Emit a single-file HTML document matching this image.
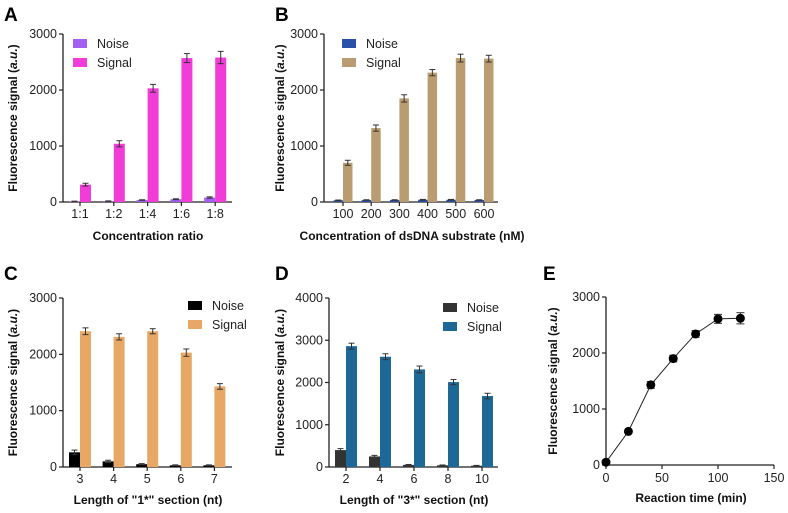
<!DOCTYPE html>
<html><head><meta charset="utf-8"><style>
body{margin:0;background:#fff}
svg{display:block;font-family:"Liberation Sans",Arial,sans-serif}
.tk{font-size:12.5px;fill:#222}
.tt{font-size:12px;font-weight:bold;fill:#111}
.pl{font-size:19px;font-weight:bold;fill:#000}
.lg{font-size:12.5px;fill:#222}
</style></head><body>
<svg id="fig" width="788" height="513" viewBox="0 0 788 513"></svg>
<script>
// Panel A
const catsA = ["1:1","1:2","1:4","1:6","1:8"];
const noiseA = [10,15,35,50,80];
const signalA = [310,1040,2030,2570,2580];
const errSA = [25,55,70,80,110];
const ticksA = [0,1000,2000,3000];
// Panel B
const catsB = ["100","200","300","400","500","600"];
const noiseB = [30,35,35,40,40,35];
const signalB = [700,1320,1850,2310,2570,2560];
const errSB = [45,55,65,55,70,60];
const ticksB = [0,1000,2000,3000];
// Panel C
const catsC = ["3","4","5","6","7"];
const noiseC = [260,100,50,30,30];
const signalC = [2410,2310,2410,2030,1430];
const errSC = [60,55,45,65,50];
const errNC = [40,20,10,8,8];
const ticksC = [0,1000,2000,3000];
// Panel D
const catsD = ["2","4","6","8","10"];
const noiseD = [400,250,50,40,30];
const signalD = [2860,2610,2310,2010,1680];
const errSD = [70,70,80,60,65];
const errND = [35,25,10,8,8];
const ticksD = [0,1000,2000,3000,4000];
// Panel E
const timeE = [0,20,40,60,80,100,120];
const valE = [50,600,1430,1900,2340,2610,2620];
const errE = [30,30,60,60,60,80,100];
const xticksE = [0,50,100,150];
const yticksE = [0,1000,2000,3000];

const NS="http://www.w3.org/2000/svg";
const svg=document.getElementById('fig');
function mk(tag,attrs,parent,text){const e=document.createElementNS(NS,tag);for(const k in attrs)e.setAttribute(k,attrs[k]);if(text!==undefined)e.textContent=text;(parent||svg).appendChild(e);return e;}

function axesY(g,x0,yScale,ticks){
  mk('line',{x1:x0,y1:yScale(ticks[ticks.length-1]),x2:x0,y2:yScale(0),stroke:'#222','stroke-width':1.3},g);
  ticks.forEach(t=>{
    const y=yScale(t);
    mk('line',{x1:x0-4,y1:y,x2:x0,y2:y,stroke:'#222','stroke-width':1.2},g);
    const tx=mk('text',{x:x0-6,y:y+4,'text-anchor':'end',class:'tk'},g,String(t));
    
    
  });
}
function ytitle(g,x,cy){
  const t=mk('text',{x:0,y:0,transform:`translate(${x},${cy}) rotate(-90)`,'text-anchor':'middle',class:'tt'},g);
  
  
  mk('tspan',{},t,'Fluorescence signal  (');
  mk('tspan',{'font-style':'italic'},t,'a.u.');
  mk('tspan',{},t,')');
}
function errbar(g,x,y1,y2,w){
  mk('line',{x1:x,y1:y1,x2:x,y2:y2,stroke:'#333','stroke-width':1},g);
  mk('line',{x1:x-w,y1:y1,x2:x+w,y2:y1,stroke:'#333','stroke-width':1},g);
  mk('line',{x1:x-w,y1:y2,x2:x+w,y2:y2,stroke:'#333','stroke-width':1},g);
}
function barPanel(o){
  const g=mk('g',{});
  
  
  const ys=v=>o.yBot-(v/o.yMax)*(o.yBot-o.yTop);
  const xc=i=>o.c0+i*o.step;
  axesY(g,o.x0,ys,o.ticks);
  mk('line',{x1:o.x0,y1:o.yBot,x2:o.xEnd,y2:o.yBot,stroke:'#222','stroke-width':1.3},g);
  o.cats.forEach((c,i)=>{
    const x=xc(i);
    mk('line',{x1:x,y1:o.yBot,x2:x,y2:o.yBot+4,stroke:'#222','stroke-width':1.2},g);
    const t=mk('text',{x:x,y:o.yBot+16,'text-anchor':'middle',class:'tk'},g,c);
    
    
    const n=o.noise[i], s=o.signal[i];
    const nb=mk('rect',{x:x-o.bw,y:ys(n),width:o.bw,height:o.yBot-ys(n),fill:o.cN},g);
    
    
    const sb=mk('rect',{x:x,y:ys(s),width:o.bw,height:o.yBot-ys(s),fill:o.cS},g);
    
    
    errbar(g,x+o.bw/2,ys(s+o.errS[i]),ys(s-o.errS[i]),3);
    const en=o.errN?o.errN[i]:Math.max(5,n*0.15);
    errbar(g,x-o.bw/2,ys(n+en),ys(Math.max(0,n-en)),3);
  });
  const xt=mk('text',{x:o.titleX,y:o.titleY,'text-anchor':'middle',class:'tt'},g,o.xtitle);
  
  
  ytitle(g,o.ytX,(o.yTop+o.yBot)/2);
  const pl=mk('text',{x:o.plX,y:o.plY,class:'pl'},g,o.label);
  
  
  [[o.cN,'Noise',o.lgY],[o.cS,'Signal',o.lgY+19]].forEach(([c,l,y])=>{
    const le=mk('g',{},g);
    
    
    mk('rect',{x:o.lgX,y:y-5,width:14,height:9,fill:c},le);
    mk('text',{x:o.lgX+24,y:y+4,class:'lg'},le,l);
  });
}

barPanel({name:'panel-a',label:'A',plX:4,plY:21,cats:catsA,noise:noiseA,signal:signalA,errS:errSA,ticks:ticksA,yMax:3000,
  x0:63,xEnd:232,yTop:34,yBot:202,c0:80,step:33.8,bw:11,cN:'#a35ef2',cS:'#f23cd8',
  xtitle:'Concentration ratio',titleX:148,titleY:240,ytX:17,lgX:73,lgY:44});
barPanel({name:'panel-b',label:'B',plX:275,plY:21,cats:catsB,noise:noiseB,signal:signalB,errS:errSB,ticks:ticksB,yMax:3000,
  x0:324,xEnd:498,yTop:34,yBot:202,c0:343,step:28.2,bw:9.5,cN:'#2b50aa',cS:'#b99c6f',
  xtitle:'Concentration of dsDNA substrate (nM)',titleX:412,titleY:240,ytX:284,lgX:342,lgY:44});
barPanel({name:'panel-c',label:'C',plX:4,plY:280,cats:catsC,noise:noiseC,signal:signalC,errS:errSC,errN:errNC,ticks:ticksC,yMax:3000,
  x0:63,xEnd:232,yTop:298,yBot:467,c0:80,step:33.6,bw:11,cN:'#000000',cS:'#e8a865',
  xtitle:'Length of "1*" section (nt)',titleX:148,titleY:504,ytX:17,lgX:188,lgY:306});
barPanel({name:'panel-d',label:'D',plX:275,plY:280,cats:catsD,noise:noiseD,signal:signalD,errS:errSD,errN:errND,ticks:ticksD,yMax:4000,
  x0:329,xEnd:498,yTop:298,yBot:467,c0:346,step:34,bw:11,cN:'#333333',cS:'#1e6897',
  xtitle:'Length of "3*" section (nt)',titleX:414,titleY:504,ytX:284,lgX:443,lgY:308});

// Panel E line chart
(function(){
  const g=mk('g',{});
  
  
  const x0=606,x1=774,yTop=297,yBot=465;
  const xs=v=>x0+(v/150)*(x1-x0);
  const ys=v=>yBot-(v/3000)*(yBot-yTop);
  axesY(g,x0,ys,yticksE);
  mk('line',{x1:x0,y1:yBot,x2:x1,y2:yBot,stroke:'#222','stroke-width':1.3},g);
  xticksE.forEach(t=>{
    mk('line',{x1:xs(t),y1:yBot,x2:xs(t),y2:yBot+4,stroke:'#222','stroke-width':1.2},g);
    const tx=mk('text',{x:xs(t),y:yBot+17,'text-anchor':'middle',class:'tk'},g,String(t));
    
    
  });
  const ln=mk('polyline',{points:timeE.map((t,i)=>xs(t)+','+ys(valE[i])).join(' '),fill:'none',stroke:'#222','stroke-width':1},g);
  
  
  timeE.forEach((t,i)=>{
    errbar(g,xs(t),ys(valE[i]+errE[i]),ys(valE[i]-errE[i]),4);
    const c=mk('circle',{cx:xs(t),cy:ys(valE[i]),r:4.5,fill:'#000'},g);
    
    
  });
  const xt=mk('text',{x:691,y:502,'text-anchor':'middle',class:'tt'},g,'Reaction time (min)');
  
  
  ytitle(g,557,(yTop+yBot)/2);
  const pl=mk('text',{x:543,y:280,class:'pl'},g,'E');
  
  
})();
</script>
</body></html>
